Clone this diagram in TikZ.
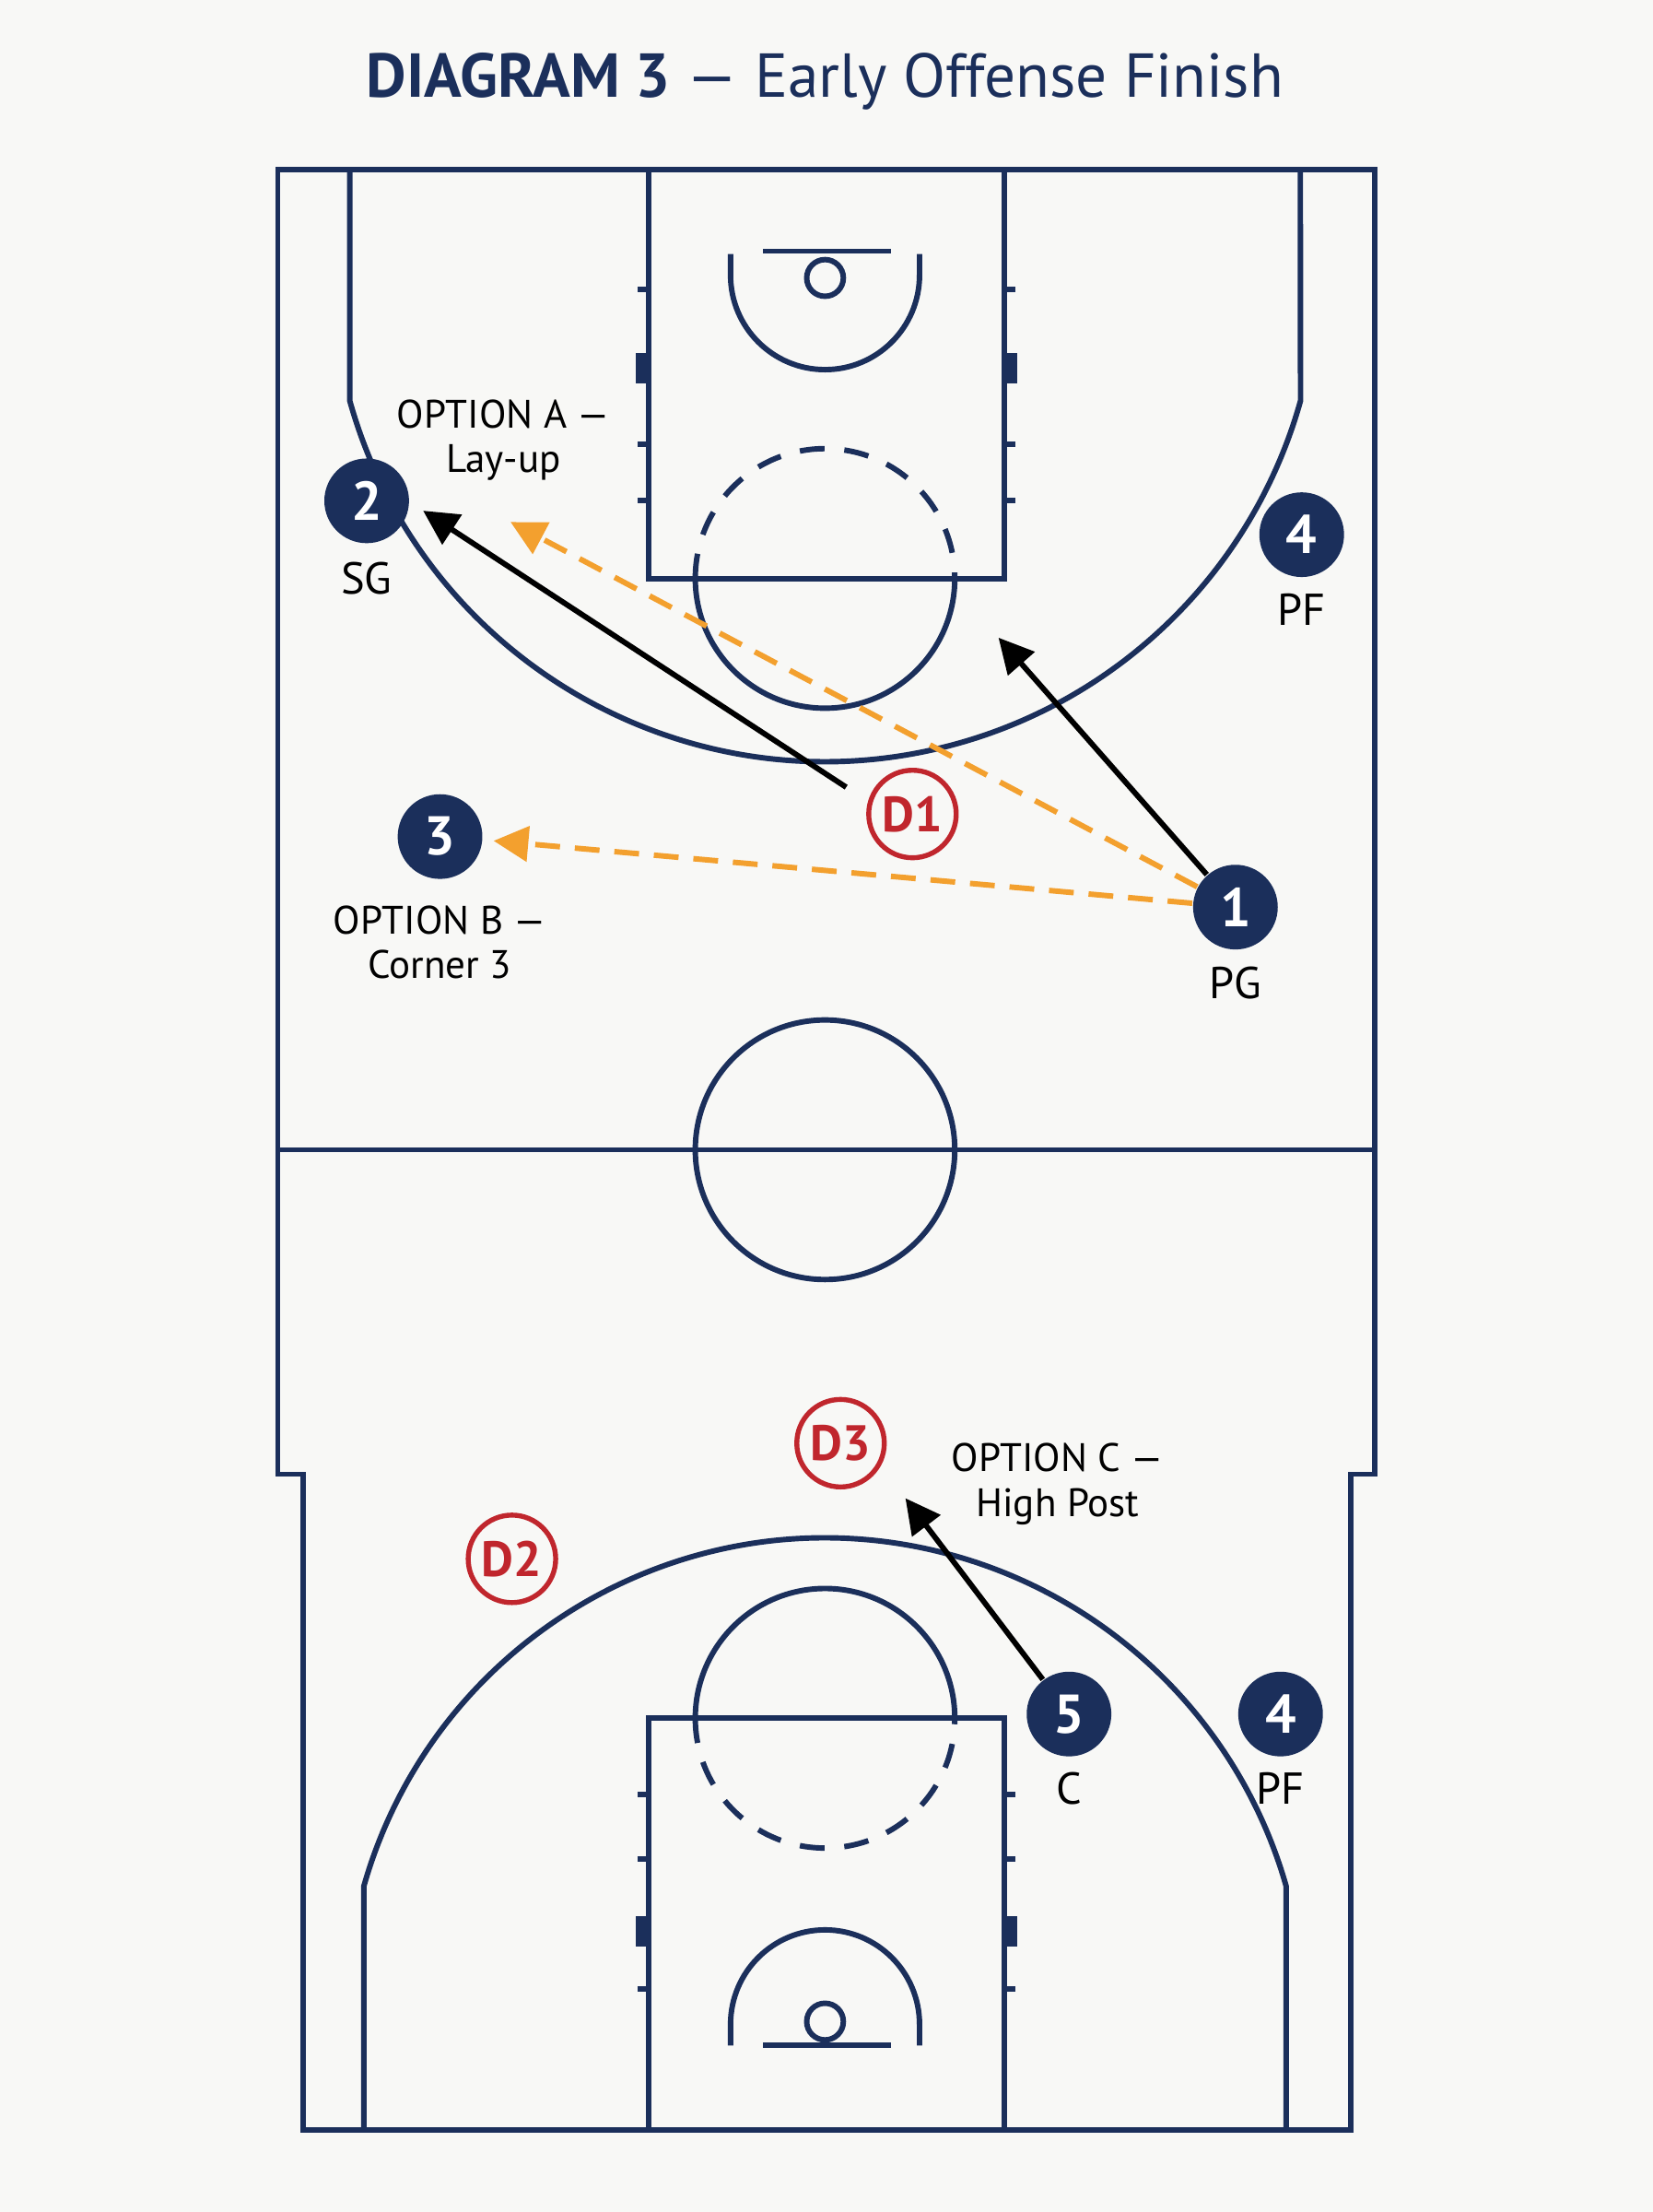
\documentclass[tikz,border=0pt]{standalone}
\usepackage{fontspec}
\setmainfont{PT Sans}
\usetikzlibrary{arrows.meta}
\definecolor{navy}{HTML}{1B2F5B}
\definecolor{dred}{HTML}{C0262D}
\definecolor{orng}{HTML}{F3A02E}
\definecolor{bg}{HTML}{F8F8F6}
\begin{document}
\begin{tikzpicture}[x=0.01cm,y=-0.01cm,
  court/.style={draw=navy,line width=1.1pt},
  dash court/.style={court,dash pattern=on 5pt off 4pt},
  off/.style={circle,fill=navy,text=white,minimum size=0.6cm,inner sep=0pt,font=\bfseries\fontsize{11}{11}\selectfont},
  def/.style={circle,draw=dred,line width=1pt,text=dred,minimum size=0.62cm,inner sep=0pt,font=\bfseries\fontsize{10}{10}\selectfont},
  lbl/.style={text=black,font=\fontsize{8}{9}\selectfont,align=center},
  move/.style={draw=black,line width=1.1pt,-{Triangle[length=7pt,width=7pt]}},
  pass/.style={draw=orng,line width=1.1pt,dash pattern=on 5pt off 3pt,-{Triangle[length=7pt,width=7pt]}}]
\fill[bg] (0,0) rectangle (1172,1568);
\useasboundingbox (0,0) rectangle (1172,1568);
\node[text=navy,font=\fontsize{12.5}{13}\selectfont] (title) at (585,58) {\textbf{DIAGRAM 3} — Early Offense Finish};
% outline
\draw[court] (197,120) -- (975,120) -- (975,1045) -- (958,1045) -- (958,1510) -- (215,1510) -- (215,1045) -- (197,1045) -- cycle;
\draw[court] (197,815) -- (975,815);
\draw[court] (585,815) circle (92);
% top half
\draw[court] (460,120) rectangle (712,410);
\draw[court] (248,120) -- (248,284) arc[start angle=164.4,end angle=15.6,radius=350] -- (922,120);
\draw[court] (493,410) arc[start angle=180,end angle=0,radius=92];
\draw[dash court] (493,410) arc[start angle=180,end angle=360,radius=92];
\draw[court] (518,180) -- (518,195) arc[start angle=180,end angle=0,radius=67] -- (652,180);
\draw[court] (541,178) -- (632,178);
\draw[court] (585,197) circle (13);
\foreach \y in {205,315,355}{\draw[court] (452,\y)--(460,\y); \draw[court] (712,\y)--(720,\y);}
\fill[navy] (451,250) rectangle (460,272); \fill[navy] (712,250) rectangle (721,272);
% bottom half
\draw[court] (460,1218) rectangle (712,1510);
\draw[court] (258,1510) -- (258,1337) arc[start angle=195.9,end angle=344.1,radius=340] -- (912,1510);
\draw[dash court] (493,1218) arc[start angle=180,end angle=0,radius=92];
\draw[court] (493,1218) arc[start angle=180,end angle=360,radius=92];
\draw[court] (518,1450) -- (518,1435) arc[start angle=180,end angle=360,radius=67] -- (652,1450);
\draw[court] (541,1450) -- (632,1450);
\draw[court] (585,1433) circle (13);
\foreach \y in {1272,1318,1410}{\draw[court] (452,\y)--(460,\y); \draw[court] (712,\y)--(720,\y);}
\fill[navy] (451,1358) rectangle (460,1380); \fill[navy] (712,1358) rectangle (721,1380);
% players
\node[off] (p2) at (260,355) {2}; \node[lbl,font=\fontsize{9}{9}\selectfont] (l2) at (260,410) {SG};
\node[off] (p4a) at (923,379) {4}; \node[lbl,font=\fontsize{9}{9}\selectfont] (l4a) at (923,432) {PF};
\node[off] (p3) at (312,593) {3};
\node[off] (p1) at (876,643) {1}; \node[lbl,font=\fontsize{9}{9}\selectfont] (l1) at (876,697) {PG};
\node[off] (p5) at (758,1215) {5}; \node[lbl,font=\fontsize{9}{9}\selectfont] (l5) at (758,1268) {C};
\node[off] (p4b) at (908,1215) {4}; \node[lbl,font=\fontsize{9}{9}\selectfont] (l4b) at (908,1268) {PF};
\node[def] (d1) at (647,577) {D1};
\node[def] (d2) at (363,1105) {D2};
\node[def] (d3) at (596,1023) {D3};
\node[lbl] (oa) at (357,312) {OPTION A —\\Lay-up};
\node[lbl] (ob) at (312,668) {OPTION B —\\Corner 3};
\node[lbl] (oc) at (750,1052) {OPTION C —\\High Post};
\coordinate (ta) at (300,362);
\coordinate (tb) at (708,452);
\coordinate (tc) at (642,1062);
\coordinate (to) at (362,370);
\coordinate (tp) at (350,596);
\draw[move] (600,558) -- (ta);
\draw[move] (p1) -- (tb);
\draw[move] (p5) -- (tc);
\draw[pass] (p1) -- (to);
\draw[pass] (p1) -- (tp);
\end{tikzpicture}
\end{document}
